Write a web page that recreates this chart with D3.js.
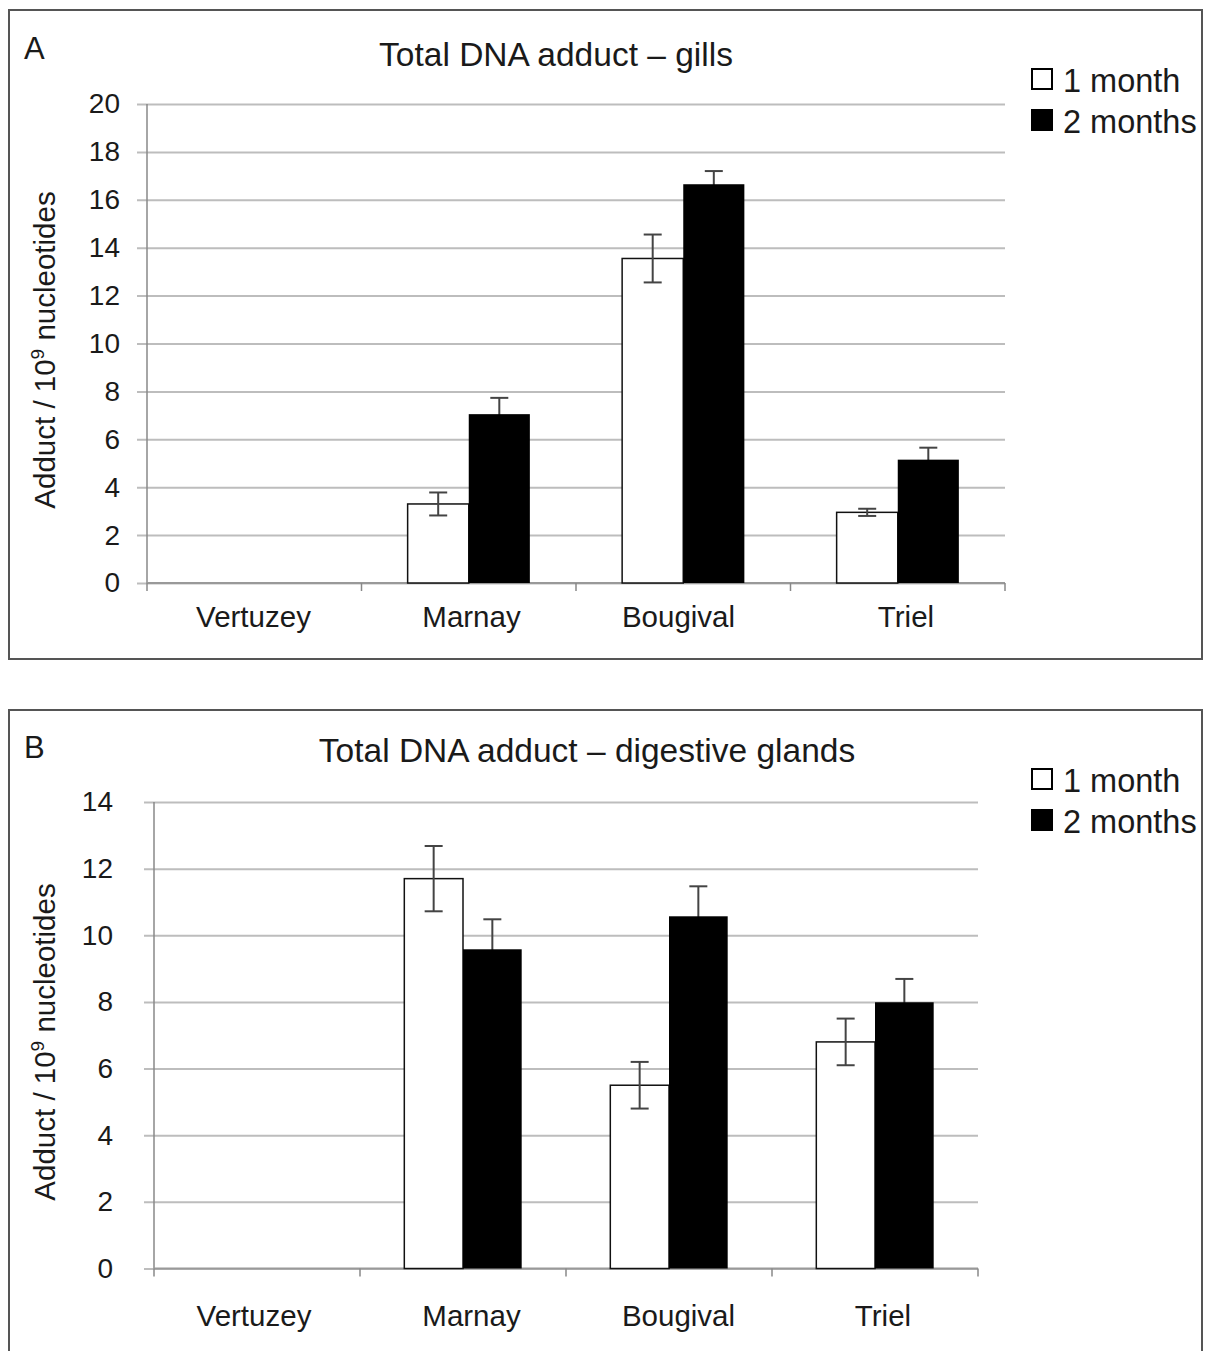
<!DOCTYPE html>
<html>
<head>
<meta charset="utf-8">
<script src="https://cdn.jsdelivr.net/npm/d3@7"></script>
<style>
  body { margin: 0; background: #fff; }
  svg { display: block; }
  text { font-family: "Liberation Sans", Arial, sans-serif; fill: #1a1a1a; }
</style>
</head>
<body>
<svg width="1206" height="1351"></svg>
<script>
// data (adducts per 10^9 nucleotides)
const categories = ['Vertuzey', 'Marnay', 'Bougival', 'Triel'];
const seriesNames = ['1 month', '2 months'];

const gills1 = [null, 3.3, 13.55, 2.95];
const gills1Err = [null, 0.48, 1.0, 0.15];
const gills2 = [null, 7.05, 16.65, 5.15];
const gills2Err = [null, 0.68, 0.55, 0.5];

const glands1 = [null, 11.7, 5.5, 6.8];
const glands1Err = [null, 0.98, 0.7, 0.7];
const glands2 = [null, 9.58, 10.57, 7.99];
const glands2Err = [null, 0.9, 0.9, 0.7];

const svg = d3.select('svg');

const panels = [
  {
    letter: 'A', title: 'Total DNA adduct – gills',
    series: [[gills1, gills1Err], [gills2, gills2Err]],
    yMax: 20, yStep: 2,
    frameY: 10, x0: 147, x1: 1005, yTop: 104, yBot: 583,
    tickPad: 17, titleX: 556, titleY: 66, letterY: 59,
    catY: 627, catX: [253.5, 471.5, 678.5, 906],
    yLabelY: 350, legendY: 68
  },
  {
    letter: 'B', title: 'Total DNA adduct – digestive glands',
    series: [[glands1, glands1Err], [glands2, glands2Err]],
    yMax: 14, yStep: 2,
    frameY: 710, x0: 154, x1: 978, yTop: 802, yBot: 1268.5,
    tickPad: 31, titleX: 587, titleY: 762, letterY: 758,
    catY: 1326, catX: [254, 471.5, 678.5, 883],
    yLabelY: 1042, legendY: 768
  }
];

panels.forEach(drawPanel);

function drawPanel(p) {
  const g = svg.append('g');

  // frame
  g.append('rect')
    .attr('x', 9).attr('y', p.frameY)
    .attr('width', 1193).attr('height', 649)
    .attr('fill', 'none').attr('stroke', '#555').attr('stroke-width', 2);

  const x = d3.scaleBand().domain(categories).range([p.x0, p.x1]);
  const xi = d3.scaleBand().domain(seriesNames).range([0, x.bandwidth()]).paddingOuter(0.755);
  const y = d3.scaleLinear().domain([0, p.yMax]).range([p.yBot, p.yTop]);

  // gridlines + tick labels
  const tickLen = 10;
  const yAxis = g.append('g')
    .attr('transform', `translate(${p.x1},0)`)
    .call(d3.axisLeft(y)
      .tickValues(d3.range(0, p.yMax + 1, p.yStep))
      .tickSize(p.x1 - p.x0 + tickLen)
      .tickPadding(p.tickPad));
  yAxis.select('.domain').remove();
  yAxis.selectAll('line').attr('stroke', '#bdbdbd').attr('stroke-width', 2);
  yAxis.selectAll('text')
    .attr('font-size', 28)
    .attr('font-family', '"Liberation Sans", Arial, sans-serif')
    .attr('fill', '#1a1a1a');

  // y axis line
  g.append('line')
    .attr('x1', p.x0).attr('x2', p.x0)
    .attr('y1', p.yTop).attr('y2', p.yBot)
    .attr('stroke', '#888').attr('stroke-width', 1.5);

  // x axis line with ticks at category boundaries
  g.append('line')
    .attr('x1', p.x0).attr('x2', p.x1)
    .attr('y1', p.yBot).attr('y2', p.yBot)
    .attr('stroke', '#999').attr('stroke-width', 2);
  const bounds = categories.map(c => x(c)).concat([p.x1]);
  g.selectAll('.xtick').data(bounds).join('line')
    .attr('x1', d => d).attr('x2', d => d)
    .attr('y1', p.yBot).attr('y2', p.yBot + 8)
    .attr('stroke', '#888').attr('stroke-width', 1.5);

  // category labels (the original sits them slightly off the band centres)
  g.selectAll('.cat').data(categories).join('text')
    .attr('x', (d, i) => p.catX[i])
    .attr('y', p.catY)
    .attr('text-anchor', 'middle')
    .attr('font-size', 29.5)
    .text(d => d);

  const rows = (si) => categories.map((c, i) => ({
    c, v: p.series[si][0][i], e: p.series[si][1][i], s: seriesNames[si]
  })).filter(d => d.v != null);

  function errBars(data) {
    const eg = g.append('g').attr('stroke', '#444').attr('stroke-width', 2);
    data.forEach(d => {
      const cx = x(d.c) + xi(d.s) + xi.bandwidth() / 2;
      eg.append('line').attr('x1', cx).attr('x2', cx)
        .attr('y1', y(d.v - d.e)).attr('y2', y(d.v + d.e));
      [d.v - d.e, d.v + d.e].forEach(val => {
        eg.append('line').attr('x1', cx - 9).attr('x2', cx + 9)
          .attr('y1', y(val)).attr('y2', y(val));
      });
    });
  }

  // 2 month error bars first so the bar hides their lower half
  errBars(rows(1));

  g.selectAll('.bar1').data(rows(0)).join('rect')
    .attr('x', d => x(d.c) + xi(d.s))
    .attr('y', d => y(d.v))
    .attr('width', xi.bandwidth())
    .attr('height', d => p.yBot - y(d.v))
    .attr('fill', '#fff').attr('stroke', '#111').attr('stroke-width', 1.5);

  g.selectAll('.bar2').data(rows(1)).join('rect')
    .attr('x', d => x(d.c) + xi(d.s))
    .attr('y', d => y(d.v))
    .attr('width', xi.bandwidth())
    .attr('height', d => p.yBot - y(d.v))
    .attr('fill', '#000');

  errBars(rows(0));

  // titles
  g.append('text').attr('x', 24).attr('y', p.letterY)
    .attr('font-size', 31).text(p.letter);
  g.append('text').attr('x', p.titleX).attr('y', p.titleY)
    .attr('text-anchor', 'middle').attr('font-size', 33.5).text(p.title);

  // y label
  const yl = g.append('text')
    .attr('transform', `translate(55,${p.yLabelY}) rotate(-90)`)
    .attr('text-anchor', 'middle')
    .attr('font-size', 29.5);
  yl.append('tspan').text('Adduct / 10');
  yl.append('tspan').attr('font-size', 19).attr('dy', -11).text('9');
  yl.append('tspan').attr('dy', 11).text(' nucleotides');

  // legend
  const lg = g.append('g').attr('transform', `translate(1031,${p.legendY})`);
  seriesNames.forEach((s, i) => {
    lg.append('rect').attr('x', 1).attr('y', i * 41 + 1)
      .attr('width', 20).attr('height', 20)
      .attr('fill', i ? '#000' : '#fff').attr('stroke', '#000').attr('stroke-width', 2);
    lg.append('text').attr('x', 32).attr('y', i * 41 + 24)
      .attr('font-size', 32.5).text(s);
  });
}
</script>
</body>
</html>
